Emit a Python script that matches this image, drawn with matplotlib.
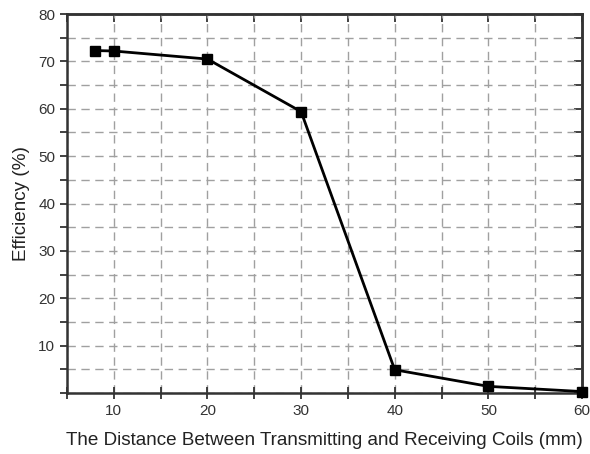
import numpy as np
import matplotlib
matplotlib.use("Agg")
import matplotlib.pyplot as plt
from matplotlib.ticker import MultipleLocator

# distance between coils (mm) vs efficiency (%)
distance = [8, 10, 20, 30, 40, 50, 60]
efficiency = [72.3, 72.2, 70.5, 59.4, 4.9, 1.4, 0.3]

plt.rcParams['font.family'] = ['Liberation Sans', 'DejaVu Sans']

fig = plt.figure(figsize=(5.9, 4.54), dpi=100)
ax = fig.add_axes([0.1136, 0.1344, 0.8728, 0.8346])

ax.plot(distance, efficiency, color='black', lw=2, marker='s', ms=7,
        zorder=3, clip_on=False)

ax.set_xlim(5, 60)
ax.set_ylim(0, 80)
ax.xaxis.set_major_locator(MultipleLocator(10))
ax.xaxis.set_minor_locator(MultipleLocator(5))
ax.yaxis.set_minor_locator(MultipleLocator(5))
ax.set_yticks([10, 20, 30, 40, 50, 60, 70, 80])

# dashed grid on major and minor positions
ax.grid(True, which='both', ls=(0, (6, 4)), color='#a0a0a0', lw=1)
ax.set_axisbelow(True)

for s in ax.spines.values():
    s.set_linewidth(1.8)
    s.set_color('#333333')

ax.tick_params(which='both', labelsize=11, colors='#333333', width=1.3)
ax.tick_params(axis='x', which='both', direction='inout', length=9)
ax.tick_params(axis='y', which='both', direction='out', length=5)

# top and right: ticks pointing inward, no labels
top = ax.secondary_xaxis('top')
top.xaxis.set_major_locator(MultipleLocator(10))
top.xaxis.set_minor_locator(MultipleLocator(5))
top.tick_params(which='both', direction='in', length=6, width=1.3,
                colors='#333333', labeltop=False)
right = ax.secondary_yaxis('right')
right.yaxis.set_major_locator(MultipleLocator(10))
right.yaxis.set_minor_locator(MultipleLocator(5))
right.tick_params(which='both', direction='in', length=6, width=1.3,
                  colors='#333333', labelright=False)
for sec in (top, right):
    for s in sec.spines.values():
        s.set_linewidth(1.8)
        s.set_color('#333333')

ax.set_xlabel('The Distance Between Transmitting and Receiving Coils (mm)',
              fontsize=13.6, color='#222222', labelpad=10)
ax.set_ylabel('Efficiency (%)', fontsize=13.6, color='#222222', labelpad=6)

fig.savefig('out.png', dpi=100)
